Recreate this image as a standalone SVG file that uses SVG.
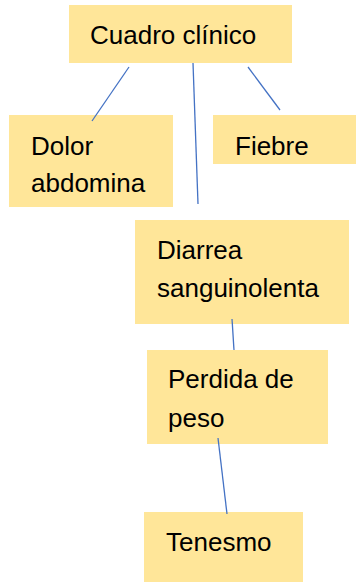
<svg xmlns="http://www.w3.org/2000/svg" width="361" height="586" viewBox="0 0 361 586">
<style>
.box{fill:#FFE699}
.t{font-family:"Liberation Sans",Arial,sans-serif;font-size:26px;fill:#000}
.c{stroke:#4472C4;stroke-width:1.3;fill:none}
</style>
<rect width="361" height="586" fill="#fff"/>
<g id="n-cuadro"><rect class="box" x="69" y="5" width="223" height="58"/><text class="t" x="90" y="44">Cuadro clínico</text></g>
<g id="n-dolor"><rect class="box" x="9" y="115" width="164" height="92"/><text class="t" x="31" y="155">Dolor</text><text class="t" x="31" y="192">abdomina</text></g>
<g id="n-fiebre"><rect class="box" x="213" y="115" width="143" height="49"/><text class="t" x="235" y="155">Fiebre</text></g>
<g id="n-diarrea"><rect class="box" x="135" y="220" width="214" height="104"/><text class="t" x="157" y="259">Diarrea</text><text class="t" x="157" y="297">sanguinolenta</text></g>
<g id="n-perdida"><rect class="box" x="147" y="350" width="181" height="94"/><text class="t" x="168" y="388">Perdida de</text><text class="t" x="168" y="427">peso</text></g>
<g id="n-tenesmo"><rect class="box" x="144" y="512" width="159" height="70"/><text class="t" x="166" y="551">Tenesmo</text></g>
<g id="connectors">
<line class="c" x1="129" y1="67" x2="92" y2="121"/>
<line class="c" x1="193" y1="63" x2="198" y2="204"/>
<line class="c" x1="248" y1="67" x2="280" y2="110"/>
<line class="c" x1="232" y1="319" x2="234" y2="350"/>
<line class="c" x1="218" y1="438" x2="227" y2="514"/>
</g>
</svg>
